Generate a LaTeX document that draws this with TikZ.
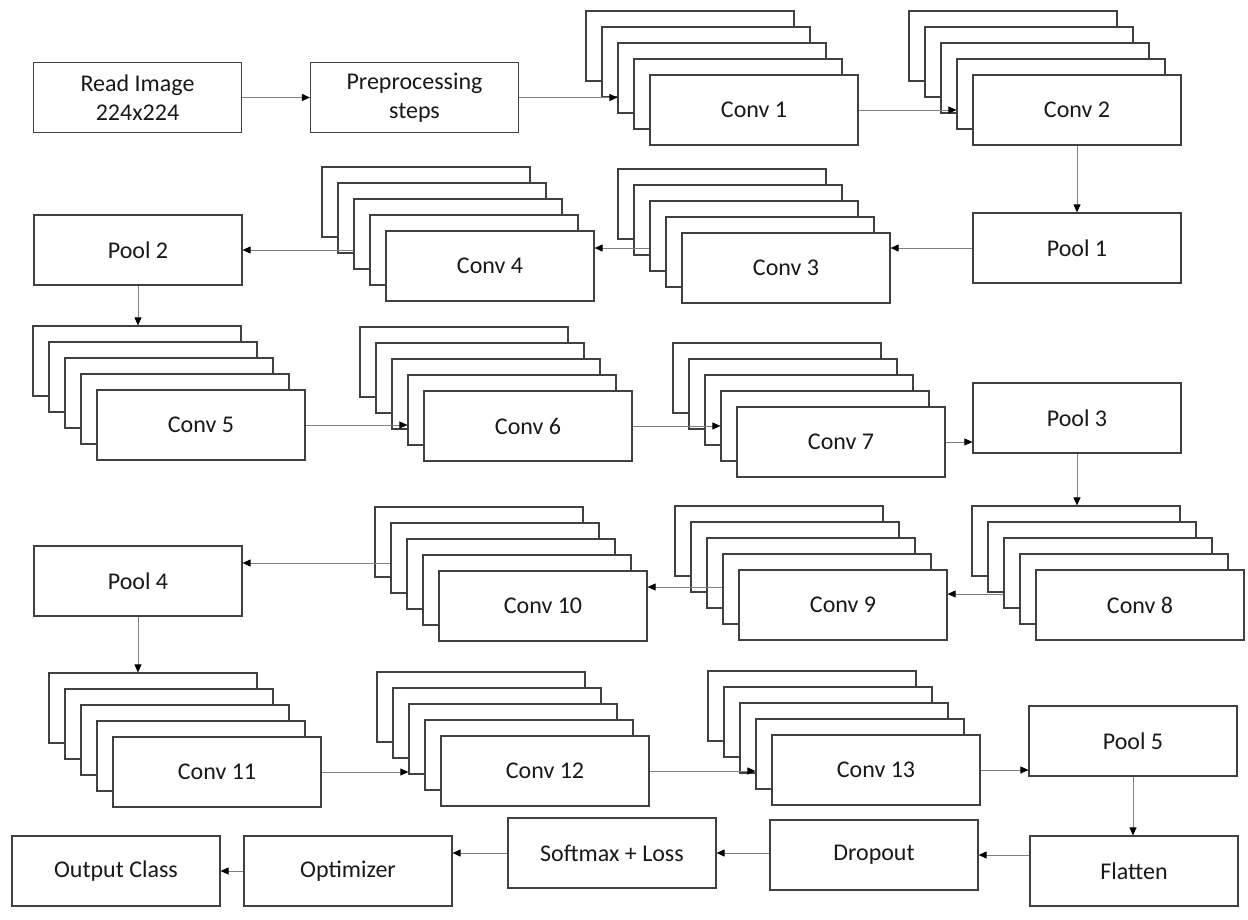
\documentclass[tikz,border=0pt]{standalone}
\usepackage{fontspec}
\setmainfont{Carlito}
\usetikzlibrary{arrows.meta}
\begin{document}
\begin{tikzpicture}[x=1pt,y=-1pt,
  every node/.style={minimum width=208pt,minimum height=70pt,inner sep=0pt,
    align=center,text=black!90,font=\fontsize{24}{29}\selectfont},
  box/.style={draw=black!75,line width=1.2pt,fill=white},
  arr/.style={draw=black!50,line width=0.9pt,-{Triangle[length=8pt,width=7pt,color=black]}}]
\useasboundingbox (0,0) rectangle (1248,919);
% plain boxes
\node[box] (read) at (137.5,97.5) {Read Image\\224x224};
\node[box] (prep) at (414.5,97.5) {Preprocessing\\steps};
\node[box] (pool1) at (1077,248) {Pool 1};
\node[box] (pool2) at (138,250) {Pool 2};
\node[box] (pool3) at (1077,418) {Pool 3};
\node[box] (pool4) at (138,581) {Pool 4};
\node[box] (pool5) at (1133,741) {Pool 5};
\node[box] (out) at (116,871) {Output Class};
\node[box] (opt) at (348,871) {Optimizer};
\node[box] (soft) at (612,853) {Softmax + Loss};
\node[box] (drop) at (874,855) {Dropout};
\node[box] (flat) at (1134,871) {Flatten};
% conv stacks, front card last
\foreach \n/\x/\y/\t in {c1/754/110/Conv 1, c2/1077/110/Conv 2, c3/786/268/Conv 3,
    c4/490/266/Conv 4, c5/201/425/Conv 5, c6/528/426/Conv 6, c7/841/442/Conv 7,
    c8/1140/605/Conv 8, c9/843/605/Conv 9, c10/543/606/Conv 10,
    c11/217/772/Conv 11, c12/545/771/Conv 12, c13/876/770/Conv 13}{
  \foreach \k in {4,3,2,1}
    \node[box] (\n-\k) at (\x-16*\k,\y-16*\k) {};
  \node[box] (\n) at (\x,\y) {\t};
}
\coordinate (t4) at ([yshift=18pt]pool4.east);
\coordinate (t9) at ([yshift=11pt]c9.east);
\coordinate (t10) at ([yshift=19pt]c10.east);
% connectors
\draw[arr] (read) -- (prep);
\draw[arr] (prep.east) -- (c1-2.west |- prep.east);
\draw[arr] (c1.east) -- (c2-1.west |- c1.east);
\draw[arr] (c2) -- (pool1);
\draw[arr] (pool1.west) -- (c3.east |- pool1.west);
\draw[arr] (c3-2.west |- pool1.west) -- (c4.east |- pool1.west);
\draw[arr] (c4-2.west |- pool2.east) -- (pool2.east);
\draw[arr] (pool2.south) -- (pool2.south |- c5-4.north);
\draw[arr] (c5.east) -- (c6-1.west |- c5.east);
\draw[arr] (c6.east) -- (c7-1.west |- c6.east);
\draw[arr] (c7.east) -- (pool3.west |- c7.east);
\draw[arr] (pool3.south) -- (pool3.south |- c8-4.north);
\draw[arr] (t9 -| c8-2.west) -- (t9);
\draw[arr] (t10 -| c9-1.west) -- (t10);
\draw[arr] (t4 -| c10-3.west) -- (t4);
\draw[arr] (pool4.south) -- (pool4.south |- c11-4.north);
\draw[arr] (c11.east) -- (c12-2.west |- c11.east);
\draw[arr] (c12.east) -- (c13-1.west |- c12.east);
\draw[arr] (c13.east) -- (pool5.west |- c13.east);
\draw[arr] (pool5.south) -- (pool5.south |- flat.north);
\draw[arr] (flat.west |- drop.east) -- (drop.east);
\draw[arr] (drop.west |- soft.east) -- (soft.east);
\draw[arr] (soft.west) -- (opt.east |- soft.west);
\draw[arr] (opt) -- (out);
\end{tikzpicture}
\end{document}
